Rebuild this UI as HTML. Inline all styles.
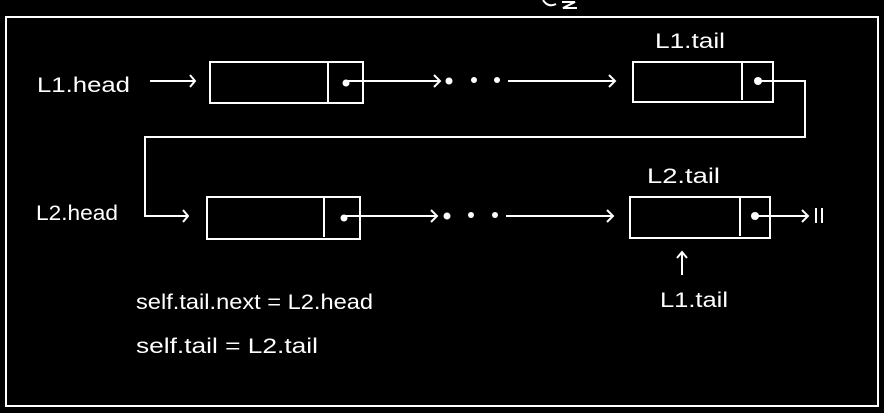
<!DOCTYPE html>
<html><head><style>body{margin:0;background:#000}svg{display:block}text{font-family:"Liberation Sans",sans-serif;fill:#fff;font-size:21px}</style></head><body>
<svg width="884" height="413" viewBox="0 0 884 413">
<rect width="884" height="413" fill="#000"/>
<g fill="none" stroke="#fff" stroke-width="2">
<rect x="6" y="17" width="872" height="389"/>
<rect x="210" y="62" width="153" height="41"/><line x1="328" y1="62" x2="328" y2="103"/>
<rect x="633" y="62" width="140" height="40"/><line x1="742" y1="62" x2="742" y2="100"/>
<rect x="207" y="197" width="153" height="42"/><line x1="324" y1="197" x2="324" y2="237"/>
<rect x="630" y="197" width="140" height="41"/><line x1="740" y1="197" x2="740" y2="236"/>
<path d="M150 81 H195 M190 75 L195 81 L190 87"/>
<path d="M346 81 H440 M434 75 L440 81 L434 87"/>
<path d="M508 81 H615 M609 75 L615 81 L609 87"/>
<path d="M758 81 H805 V137 H145 V216 H188 M183 210 L188 216 L183 222"/>
<path d="M344 216 H437 M431 210 L437 216 L431 222"/>
<path d="M506 216 H613 M607 210 L613 216 L607 222"/>
<path d="M755 216 H808 M802 210 L808 216 L802 222"/>
<path d="M816 208 V223 M822 208 V223"/>
<path d="M682 275 V252 M677 258 L682 252 L687 258"/>
<path d="M543 0 Q548 8 556 4 M562 2 H575 L563 8 H577"/>
</g>
<g fill="#fff"><circle cx="346" cy="83" r="3.5"/><circle cx="758" cy="81" r="4"/><circle cx="344" cy="218" r="3.5"/><circle cx="755" cy="216" r="4"/>
<circle cx="449" cy="81" r="3.5"/><circle cx="474" cy="80" r="3"/><circle cx="497" cy="80" r="3"/>
<circle cx="447" cy="216" r="3.5"/><circle cx="471" cy="215" r="3"/><circle cx="495" cy="215" r="3"/></g>
<text x="37" y="92" textLength="93" lengthAdjust="spacingAndGlyphs">L1.head</text>
<text x="655" y="48" textLength="70" lengthAdjust="spacingAndGlyphs">L1.tail</text>
<text x="36" y="220" textLength="82" lengthAdjust="spacingAndGlyphs">L2.head</text>
<text x="647" y="183" textLength="73" lengthAdjust="spacingAndGlyphs">L2.tail</text>
<text x="660" y="307" textLength="68" lengthAdjust="spacingAndGlyphs">L1.tail</text>
<text x="136" y="309" textLength="237" lengthAdjust="spacingAndGlyphs">self.tail.next = L2.head</text>
<text x="136" y="353" textLength="182" lengthAdjust="spacingAndGlyphs">self.tail = L2.tail</text>
</svg></body></html>
